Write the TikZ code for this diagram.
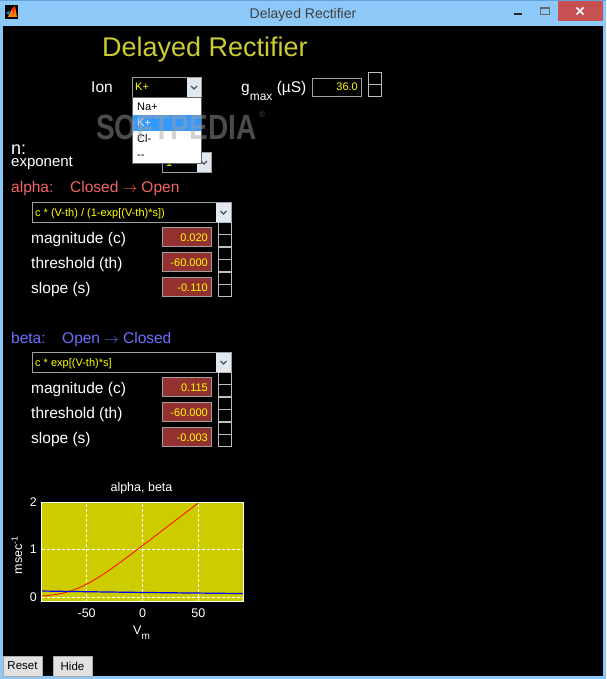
\documentclass[tikz,border=0pt]{standalone}
\usepackage{fontspec}
\setmainfont{Liberation Sans}
\definecolor{winblue}{RGB}{140,200,248}
\definecolor{winedge}{RGB}{100,160,220}
\definecolor{closered}{RGB}{199,80,80}
\definecolor{titlegray}{RGB}{64,64,64}
\definecolor{headyellow}{RGB}{204,204,51}
\definecolor{valyellow}{RGB}{255,255,0}
\definecolor{valred}{RGB}{147,48,48}
\definecolor{boxgray}{RGB}{160,160,160}
\definecolor{spingray}{RGB}{190,190,190}
\definecolor{btnlight}{RGB}{225,232,240}
\definecolor{chevgray}{RGB}{80,80,80}
\definecolor{listblue}{RGB}{51,153,255}
\definecolor{alphared}{RGB}{245,100,100}
\definecolor{betablue}{RGB}{110,110,255}
\definecolor{plotyellow}{RGB}{204,204,0}
\definecolor{wmgray}{RGB}{160,160,160}
\definecolor{btngray}{RGB}{225,225,225}
\definecolor{btnedge}{RGB}{173,173,173}
\begin{document}
\begin{tikzpicture}[x=1pt,y=-1pt,
    txt/.style={inner sep=0pt,anchor=base west},
    lbl/.style={txt,text=white,font=\fontsize{15.5}{16}\selectfont},
    smalltxt/.style={font=\fontsize{11}{12}\selectfont},
    valtxt/.style={inner sep=0pt,anchor=base east,text=valyellow,smalltxt},
    dropbox/.style={draw=boxgray,fill=black,line width=1pt},
    valbox/.style={draw=boxgray,fill=valred,line width=1pt},
    spinbox/.style={draw=spingray,fill=black,line width=1.2pt},
    chev/.style={chevgray,line width=1.2pt},
    gridline/.style={white,dash pattern=on 3pt off 2pt,line width=0.8pt},
    axtxt/.style={inner sep=0pt,text=white,font=\fontsize{12.5}{13}\selectfont},
    btn/.style={draw=btnedge,fill=btngray,line width=1pt,inner sep=0pt,
      minimum width=39pt,minimum height=20pt,font=\fontsize{11.5}{12}\selectfont}]
  \useasboundingbox (0,0) rectangle (606,679);

  % Vindu
  \fill[winblue] (0,0) rectangle (606,679);
  \draw[winedge] (0,0.5) -- (606,0.5);
  \fill[black] (3,26) rectangle (603,676);

  % Tittellinje
  \fill[black] (5,5) rectangle (18,19);
  \fill[orange] (8,17) -- (12,9) -- (15,6) -- (17,17) -- cycle;
  \fill[red!80!orange] (12,9) -- (15,6) -- (14,15) -- cycle;
  \fill[cyan!70!blue] (6,13) -- (10,11) -- (9,15) -- cycle;
  \node[txt,anchor=base,text=titlegray,font=\fontsize{14}{14}\selectfont] (wintitle) at (303,18.5) {Delayed Rectifier};
  \draw[line width=2pt,black!85] (514,14) -- (522,14);
  \draw[line width=1pt,black!60] (540.5,7.5) rectangle (549.5,14.5);
  \draw[line width=2pt,black!60] (540,8.5) -- (550,8.5);
  \fill[closered] (558,1) rectangle (603,21);
  \draw[white,line width=1.6pt] (576.5,7.5) -- (583.5,14.5) (576.5,14.5) -- (583.5,7.5);

  % Overskrift
  \node[txt,text=headyellow,font=\fontsize{27}{27}\selectfont] (heading) at (102,57) {Delayed Rectifier};

  % Ion og gmax
  \node[lbl] (ion) at (91,93) {Ion};
  \node[lbl] (gmax) at (241,93) {g\raisebox{-8pt}{\fontsize{12}{12}\selectfont max} (µS)};
  \draw[dropbox] (312.5,78.5) rectangle (361.5,96.5);
  \node[valtxt] (gval) at (358,91) {36.0};
  \draw[spinbox] (368.5,72.5) rectangle (381.5,84.5);
  \draw[spinbox] (368.5,84.5) rectangle (381.5,96.5);

  % Eksponent
  \node[txt,text=white,font=\fontsize{18}{18}\selectfont] (n) at (11,154) {n:};
  \node[lbl,font=\fontsize{15}{15}\selectfont] (expo) at (11,167) {exponent};
  \draw[dropbox] (162.5,152.5) rectangle (211.5,172.5);
  \fill[btnlight] (197,153) rectangle (211,172);
  \draw[chev] (201,161) -- (204,164) -- (207,161);
  \node[txt,text=valyellow,smalltxt] (expval) at (166,167) {1};

  % Ion-meny (åpen)
  \draw[dropbox] (132.5,77.5) rectangle (201.5,97.5);
  \fill[btnlight] (187,78) rectangle (201,97);
  \draw[chev] (191,86) -- (194,89) -- (197,86);
  \node[txt,text=valyellow,smalltxt] (ionval) at (135,91) {K+};
  \draw[draw=black!60,fill=white] (132.5,97.5) rectangle (201.5,163.5);
  \fill[listblue] (133,115) rectangle (201,131);
  \node[txt,smalltxt] (na) at (137,111) {Na+};
  \node[txt,smalltxt,text=white] (k) at (137,127) {K+};
  \node[txt,smalltxt] (cl) at (137,142.5) {Cl-};
  \node[txt,smalltxt] (none) at (137,158) {-\kern0pt-};

  % Vannmerke
  \node[txt,text=wmgray,opacity=0.47,font=\bfseries\fontsize{35}{35}\selectfont,xscale=0.8] (wm) at (96,140) {SOFTPEDIA};
  \node[txt,text=wmgray,opacity=0.47,font=\fontsize{8}{8}\selectfont] (wmr) at (259,118) {®};

  % alpha
  \node[lbl,text=alphared] (alpha) at (11,193) {alpha:};
  \node[lbl,text=alphared] (aco) at (70,193) {Closed $\rightarrow$ Open};
  \draw[dropbox] (32.5,202.5) rectangle (231.5,222.5);
  \fill[btnlight] (216,203) rectangle (231,222);
  \draw[chev] (220.5,211) -- (223.5,214) -- (226.5,211);
  \node[txt,text=valyellow,smalltxt] (aform) at (35,216) {c * (V-th) / (1-exp[(V-th)*s])};
  \foreach \lab/\val [count=\i from 0] in {magnitude (c)/0.020,threshold (th)/-60.000,slope (s)/-0.110} {
    \pgfmathsetmacro\y{222+25*\i}
    \node[lbl] (alab\i) at (31,\y+21) {\lab};
    \draw[valbox] (162.5,\y+5.5) rectangle (211.5,\y+24.5);
    \node[valtxt] (aval\i) at (208,\y+19) {\val};
    \draw[spinbox] (218.5,\y+0.5) rectangle (231.5,\y+12.5);
    \draw[spinbox] (218.5,\y+12.5) rectangle (231.5,\y+24.5);
  }

  % beta
  \node[lbl,text=betablue] (beta) at (11,343) {beta:};
  \node[lbl,text=betablue] (boc) at (62,343) {Open $\rightarrow$ Closed};
  \draw[dropbox] (32.5,352.5) rectangle (231.5,372.5);
  \fill[btnlight] (216,353) rectangle (231,372);
  \draw[chev] (220.5,361) -- (223.5,364) -- (226.5,361);
  \node[txt,text=valyellow,smalltxt] (bform) at (35,366) {c * exp[(V-th)*s]};
  \foreach \lab/\val [count=\i from 0] in {magnitude (c)/0.115,threshold (th)/-60.000,slope (s)/-0.003} {
    \pgfmathsetmacro\y{372+25*\i}
    \node[lbl] (blab\i) at (31,\y+21) {\lab};
    \draw[valbox] (162.5,\y+5.5) rectangle (211.5,\y+24.5);
    \node[valtxt] (bval\i) at (208,\y+19) {\val};
    \draw[spinbox] (218.5,\y+0.5) rectangle (231.5,\y+12.5);
    \draw[spinbox] (218.5,\y+12.5) rectangle (231.5,\y+24.5);
  }

  % Plott alpha, beta
  \node[axtxt,anchor=base] (ptitle) at (141.5,491) {alpha, beta};
  \node[axtxt,anchor=base,rotate=90] (ylab) at (22,555) {msec\textsuperscript{-1}};
  \node[axtxt,anchor=base] (xlab) at (141.5,634) {V\raisebox{-5pt}{\fontsize{10}{10}\selectfont m}};
  \begin{scope}[shift={(142.5,597)},x=1.117pt,y=47.5pt]
    \fill[plotyellow] (-90,-0.1) rectangle (90,2);
    \foreach \v in {-50,0,50} \draw[gridline] (\v,-0.1) -- (\v,2);
    \foreach \u in {0,1} \draw[gridline] (-90,\u) -- (90,\u);
    \begin{scope}
      \clip (-90,-0.1) rectangle (90,2);
      \draw[red,line width=0.8pt] plot[domain=-90:52,samples=60] (\x,{0.018*(\x+60)/(1-exp(-0.11*(\x+60)))});
      \draw[blue,line width=1.2pt] plot[domain=-90:90,samples=30] (\x,{0.115*exp(-0.003*(\x+60))});
    \end{scope}
    \draw[white,line width=1pt] (-90,-0.1) rectangle (90,2);
    \foreach \u in {0,1,2} \node[axtxt,anchor=east,xshift=-5pt] (yt\u) at (-90,\u) {\u};
    \foreach \v in {-50,0,50} \node[axtxt,anchor=north,yshift=-7pt] (xt\v) at (\v,-0.1) {\v};
  \end{scope}

  % Knapper
  \node[btn] (reset) at (22.5,666) {Reset};
  \node[btn] (hide) at (72.5,666) {Hide};
\end{tikzpicture}
\end{document}
